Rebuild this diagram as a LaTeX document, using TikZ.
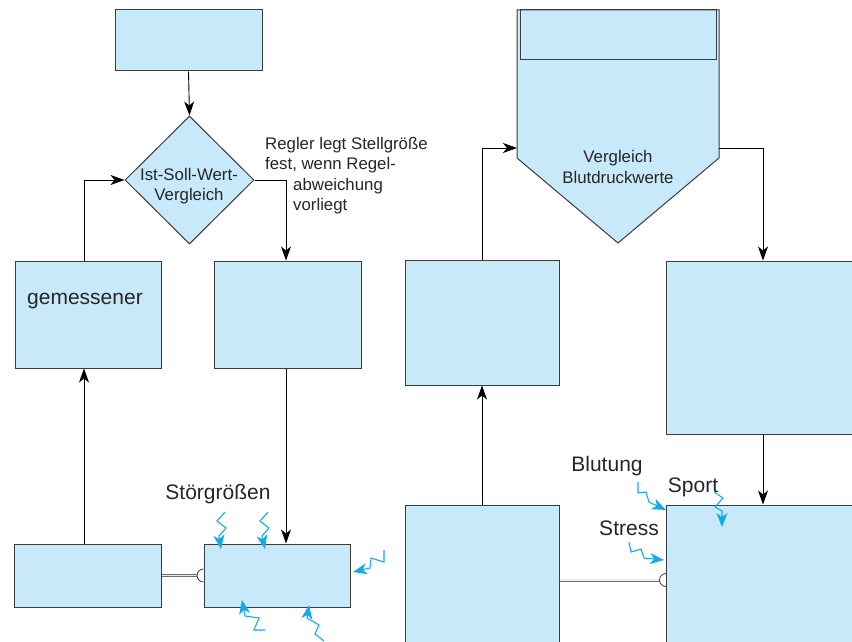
\documentclass[tikz,border=0pt]{standalone}
\usepackage{fontspec}
\setmainfont{Liberation Sans}
\usetikzlibrary{arrows.meta,shapes.geometric}
\definecolor{boxfill}{RGB}{199,233,249}
\definecolor{boxline}{RGB}{60,60,60}
\definecolor{zzblue}{RGB}{20,170,235}
\definecolor{dgray}{RGB}{110,110,110}
\begin{document}
\begin{tikzpicture}[x=1pt,y=-1pt,
 box/.style={draw=boxline, fill=boxfill, line width=1pt, rectangle, inner sep=0pt},
 arr/.style={draw=black, line width=0.9pt, -{Stealth[length=14pt,width=10pt,inset=4pt,fill=black,color=black]}},
 zz/.style={draw=zzblue, line width=1.1pt, line join=miter, -{Stealth[length=14pt,width=11pt,inset=4pt,fill=zzblue,color=zzblue]}},
 small/.style={font=\fontsize{16.8}{20.5}\selectfont, text=black!85, inner sep=0pt},
 big/.style={font=\fontsize{21}{25}\selectfont, text=black!85, inner sep=0pt},
 dbl/.style={draw=dgray, double=gray!15, double distance=1.6pt, line width=0.7pt},
 socket/.style={draw=boxline, line width=0.8pt}
]
\clip (0,0) rectangle (852,642);
\fill[white] (0,0) rectangle (852,642);

% ---------- left diagram ----------
\node[box, minimum width=147, minimum height=61] (top) at (188.5,40.5) {};
\node[box, diamond, minimum width=129, minimum height=128] (diam) at (189.5,180) {};
\node[small, align=center] (diamtxt) at (189,186) {Ist-Soll-Wert-\\Vergleich};
\node[box, minimum width=146, minimum height=107] (gem) at (88,314.5) {};
\node[big] (gemtxt) at (85,301) {gemessener};
\node[box, minimum width=147, minimum height=107] (mid) at (287.5,314.5) {};
\node[box, minimum width=147, minimum height=63] (bl) at (87.5,575.5) {};
\node[box, minimum width=146, minimum height=63] (bm) at (277,575.5) {};

\node[small, align=left, anchor=north west] (regler) at (265,137)
  {Regler legt Stellgröße\\fest, wenn Regel-\\\hspace*{28pt}abweichung\\\hspace*{28pt}vorliegt};
\node[big] (stoer) at (218,494) {Störgrößen};

\draw[arr] (top.south) -- (diam.north);
\draw[arr] ([xshift=-4pt]gem.north) |- (diam.west);
\draw[arr] (diam.east) -| ([xshift=-1.5pt]mid.north);
\draw[arr] ([xshift=-1.5pt]mid.south) -- ([xshift=-1.5pt]mid.south |- bm.north);
\draw[arr] ([xshift=-3.5pt]bl.north) -- ([xshift=-4pt]gem.south);
\draw[dbl] (bl.east) -- ([xshift=-6.5pt]bm.west);
\draw[socket] ([yshift=6.5pt]bm.west) arc[start angle=90, end angle=270, radius=6.5pt];

% disturbances (left)
\draw[zz] (225,512) -- (217,521) -- (226,528) -- (219,536) -- (221,549);
\draw[zz] (268,512) -- (260,521) -- (269,528) -- (262,536) -- (265,549);
\draw[zz] (384,550) -- (384,562) -- (371,558) -- (370,568) -- (353,572);
\draw[zz] (265,630) -- (254,630) -- (259,618) -- (245,616) -- (242,600);
\draw[zz] (324,641) -- (315,634) -- (319,625) -- (307,618) -- (309,605);

% ---------- right diagram ----------
\draw[box] (517,10) -- (719,10) -- (719,158) -- (618,243) -- (517,158) -- cycle;
\draw[boxline, line width=1pt] (520,10) rectangle (716,60);
\coordinate (pentW) at (517,148);
\coordinate (pentE) at (719,148);
\node[small, align=center] (penttxt) at (618,167) {Vergleich\\Blutdruckwerte};

\node[box, minimum width=154, minimum height=125] (rb1) at (482,322.5) {};
\node[box, minimum width=194, minimum height=173] (rb2) at (763,347.5) {};
\node[box, minimum width=194, minimum height=145] (rb3) at (763,577.5) {};
\node[box, minimum width=154, minimum height=145] (rb4) at (482,577.5) {};

\draw[arr] (rb1.north) |- (pentW);
\draw[arr] (pentE) -| (rb2.north);
\draw[arr] (rb2.south) -- (rb3.north);
\draw[arr] (rb4.north) -- (rb1.south);
\coordinate (rsock) at (666,580);
\draw[dbl] (rb4.east |- rsock) -- ([xshift=-6.5pt]rsock);
\draw[socket] ([yshift=6.5pt]rsock) arc[start angle=90, end angle=270, radius=6.5pt];

\node[big] (blutung) at (607,466) {Blutung};
\node[big] (sport) at (693,487) {Sport};
\node[big] (stress) at (629,528) {Stress};

\draw[zz] (638,482) -- (638,493) -- (646,492) -- (649,502) -- (666,510);
\draw[zz] (629,542) -- (631,552) -- (641,549) -- (644,558) -- (664,560);
\draw[zz] (714,492) -- (723,498) -- (715,507) -- (722,511) -- (722,527);
\end{tikzpicture}
\end{document}
